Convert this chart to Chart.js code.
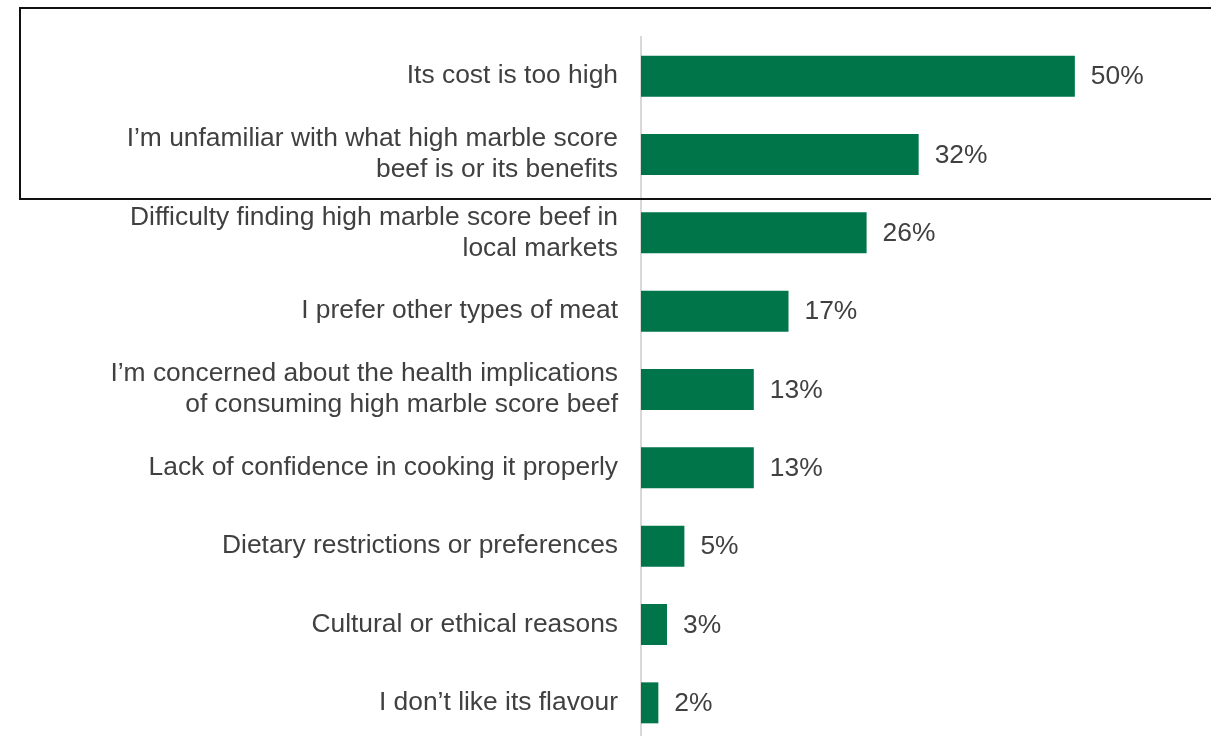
<!DOCTYPE html>
<html>
<head>
<meta charset="utf-8">
<script src="https://cdn.jsdelivr.net/npm/chart.js@4/dist/chart.umd.min.js"></script>
<style>
  html, body { margin: 0; padding: 0; background: #fff; overflow: hidden; }
  #wrap { position: relative; width: 1211px; height: 745px; }
</style>
</head>
<body>
<div id="wrap"><canvas id="Chart" width="1211" height="745"></canvas></div>
<script>
// reasons for not buying high marble score beef
const reasons = [
  'Its cost is too high',
  ['I\u2019m unfamiliar with what high marble score', 'beef is or its benefits'],
  ['Difficulty finding high marble score beef in', 'local markets'],
  'I prefer other types of meat',
  ['I\u2019m concerned about the health implications', 'of consuming high marble score beef'],
  'Lack of confidence in cooking it properly',
  'Dietary restrictions or preferences',
  'Cultural or ethical reasons',
  'I don\u2019t like its flavour'
];
const shares = [50, 32, 26, 17, 13, 13, 5, 3, 2];

const textColor = '#404040';
const fontFamily = 'Arial, "Liberation Sans", sans-serif';
const fontSize = 26.4;

// percent labels at the end of each bar
const valueLabels = {
  id: 'valueLabels',
  afterDatasetsDraw(chart) {
    const ctx = chart.ctx;
    const meta = chart.getDatasetMeta(0);
    ctx.save();
    ctx.font = fontSize + 'px ' + fontFamily;
    ctx.fillStyle = textColor;
    ctx.textAlign = 'left';
    ctx.textBaseline = 'middle';
    meta.data.forEach((bar, i) => {
      ctx.fillText(shares[i] + '%', bar.x + 16, bar.y + 1);
    });
    ctx.restore();
  }
};

// black box round the first two reasons
const highlightBox = {
  id: 'highlightBox',
  afterDraw(chart) {
    const ctx = chart.ctx;
    ctx.save();
    ctx.strokeStyle = '#111';
    ctx.lineWidth = 2;
    ctx.strokeRect(20, 8, 1200, 191);
    ctx.restore();
  }
};

let barCtx = document.getElementById('Chart');
let barConfig = {
  type: 'bar',
  data: {
    labels: reasons,
    datasets: [{
      data: shares,
      backgroundColor: '#00754A',
      borderWidth: 0,
      categoryPercentage: 1,
      barPercentage: 0.523
    }]
  },
  options: {
    indexAxis: 'y',
    responsive: false,
    animation: false,
    layout: { padding: { top: 37, bottom: 3, right: 6, left: 0 } },
    plugins: {
      legend: { display: false },
      tooltip: { enabled: false }
    },
    scales: {
      x: {
        display: false,
        min: 0,
        max: 65
      },
      y: {
        grid: { display: false, drawTicks: false },
        border: { display: true, color: '#d9d9d9', width: 2 },
        ticks: {
          color: textColor,
          padding: 23,
          font: { family: fontFamily, size: fontSize, lineHeight: 1.18 }
        },
        afterFit(scale) {
          // fixed label column, no extra room above/below for the labels
          scale.width = 641;
          scale.paddingTop = 0;
          scale.paddingBottom = 0;
        }
      }
    }
  },
  plugins: [valueLabels, highlightBox]
};
let barChart = new Chart(barCtx, barConfig);
</script>
</body>
</html>
